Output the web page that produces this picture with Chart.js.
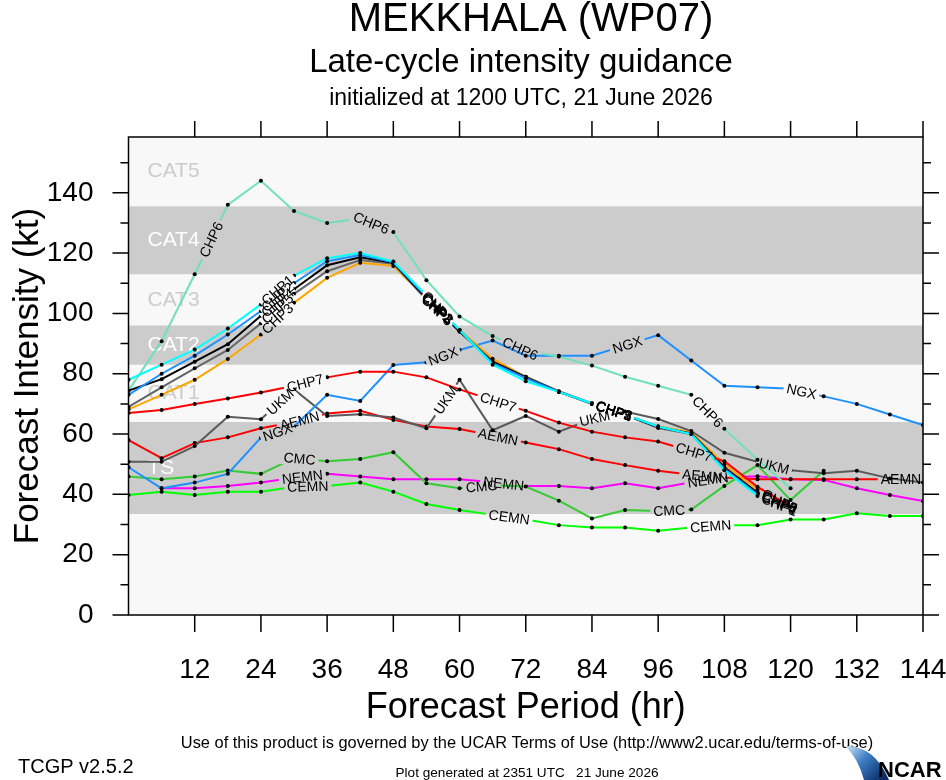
<!DOCTYPE html>
<html>
<head>
<meta charset="utf-8">
<title>MEKKHALA (WP07) late-cycle intensity guidance</title>
<script src="https://cdn.jsdelivr.net/npm/chart.js@4.4.1/dist/chart.umd.min.js"></script>
<style>
  html, body { margin: 0; padding: 0; background: #ffffff; }
  #wrap { width: 946px; height: 780px; }
</style>
</head>
<body>
<div id="wrap"><canvas id="myChart" width="946" height="780"></canvas></div>
<script>
// forecast hours
const hours = [0, 6, 12, 18, 24, 30, 36, 42, 48, 54, 60, 66, 72, 78, 84, 90, 96, 102, 108, 114, 120, 126, 132, 138, 144];

// model intensities (kt)
const chp1 = [78, 83, 88, 95, 103, 112.5, 118.3, 120, 117.2, 106, 94.5, 83, 77.5, 74, 70.2, 66.5, 62.5, 60, 48, 39.5, 35, null, null, null, null];
const chp2 = [73, 80, 86, 93, 100.8, 110, 117.3, 119.4, 117, 105.5, 94.5, 83.5, 78.5, 74, 70, 66.5, 62.5, 60, 48.5, 40, 35.5, null, null, null, null];
const chp4 = [74.4, 78.2, 84, 89.8, 99.2, 108, 116, 118.6, 116.8, 105, 94, 84, 78.8, 74, 70, 66.3, 62.3, 60.2, 49, 40.5, 35.5, null, null, null, null];
const chp5 = [69, 75.5, 81.8, 87.9, 96.7, 106.5, 114, 117.7, 116.5, 104.5, 94, 84, 79, 74.2, 70.2, 66.5, 62, 60, 48.5, 40.5, 36, null, null, null, null];
const chp3 = [68.2, 73, 78, 84.9, 93, 103.5, 111.8, 116.8, 115.7, 105, 94.5, 85, 79, 74, 70, 66.5, 62.5, 60.5, 50, 41.5, 36, null, null, null, null];
const chp6 = [74.4, 90.8, 113, 136, 144, 134, 130, 131.5, 127, 111, 99, 92.5, 87.5, 85.7, 82.7, 79, 76, 73, 61.8, 51.5, 42, null, null, null, null];
const ngx  = [49, 42, 43.9, 46.8, 58.8, 62.5, 73, 71, 82.9, 83.8, 87.9, 91, 86, 86, 86, 89.4, 92.8, 84.4, 76, 75.5, 75, 72.5, 70, 66.5, 63];
const chp7 = [67, 68, 70, 71.8, 73.8, 76, 78.8, 80.7, 80.7, 78.8, 74.8, 71.2, 67.7, 63.8, 60.8, 58.9, 57.5, 54.3, 51, 42.5, 36, null, null, null, null];
const ukm  = [50.8, 50.8, 56, 65.7, 64.9, 74.8, 66, 66.6, 65.5, 61.9, 78, 61.3, 66, 60.8, 65, 67.5, 65, 61, 53.8, 50.8, 48, 47, 47.8, 45.3, 43.9];
const aemn = [58, 52, 57, 58.9, 61.9, 64, 66.8, 67.7, 64.7, 62.5, 61.7, 59.5, 57.2, 55, 51.7, 49.7, 47.8, 46.5, 45.6, 45, 45, 45, 45, 45, 45];
const cmc  = [45.9, 45, 45.9, 47.9, 46.8, 52, 51, 51.7, 54, 43.7, 42, 43, 42.6, 37.9, 32, 34.8, 34.5, 35, 42.8, 49.7, 38.1, 47.8, null, null, null];
const nemn = [null, 42, 42, 42.8, 43.9, 45.5, 46.8, 45.9, 45, 45, 45, 44, 42.8, 42.8, 42, 43.7, 42, 44, 45.6, 46, 45, 44.8, 42, 39.8, 37.8];
const cemn = [39.8, 40.9, 39.8, 40.9, 40.9, 42.5, 42.8, 43.9, 40.9, 36.8, 34.8, 33.2, 31.7, 29.8, 29, 29, 27.9, 29, 29.8, 29.8, 31.7, 31.7, 33.7, 32.8, 32.8];

// hours where the model name is written on its line
const chpTags  = [27, 56, 88, 118];
const chp6Tags = [15, 44, 71, 105];
const ngxTags  = [27, 57, 90.4, 122];
const chp7Tags = [32, 67, 102.5];
const ukmTags  = [27.5, 57.5, 84.5, 117];
const aemnTags = [31, 67, 104, 140];
const cmcTags  = [31, 64, 98];
const nemnTags = [31.5, 68, 105];
const cemnTags = [32.5, 69, 105.5];

// intensity category thresholds (kt)
const catEdges = [33.5, 64, 83, 96, 113, 135.5];
const catNames = ['TS', 'CAT1', 'CAT2', 'CAT3', 'CAT4', 'CAT5'];

const yTicks = [0, 20, 40, 60, 80, 100, 120, 140];
const xTicks = [12, 24, 36, 48, 60, 72, 84, 96, 108, 120, 132, 144];

const FONT = '"Liberation Sans", Arial, Helvetica, sans-serif';

function series(name, vals, color, tags) {
    return {
        label: name,
        data: hours.map((h, i) => ({ x: h, y: vals[i] })),
        borderColor: color,
        backgroundColor: color,
        tags: tags
    };
}

const data = {
    datasets: [
        series('CHP7', chp7, '#ff0000', chp7Tags),
        series('CHP1', chp1, '#00ffff', chpTags),
        series('CHP2', chp2, '#1e90ff', chpTags),
        series('CHP4', chp4, '#000000', chpTags),
        series('CHP5', chp5, '#666666', chpTags),
        series('CHP3', chp3, '#ffa500', chpTags),
        series('CHP6', chp6, '#70e0b8', chp6Tags),
        series('NGX', ngx, '#1e90ff', ngxTags),
        series('UKM', ukm, '#5a5a5a', ukmTags),
        series('AEMN', aemn, '#ff0000', aemnTags),
        series('CMC', cmc, '#33cc33', cmcTags),
        series('NEMN', nemn, '#ff00ff', nemnTags),
        series('CEMN', cemn, '#00ff00', cemnTags)
    ]
};

// where each name sits on its own line (pixel coords from the chart's points)
function tagSpots(chart, i) {
    const ds = chart.data.datasets[i];
    const pts = chart.getDatasetMeta(i).data;
    const ctx = chart.ctx;
    ctx.save();
    ctx.font = '14px ' + FONT;
    const w = ctx.measureText(ds.label).width;
    ctx.restore();
    const out = [];
    (ds.tags || []).forEach(h => {
        let k = 0;
        while (k < hours.length - 2 && hours[k + 1] < h) k++;
        const a = pts[k], b = pts[k + 1];
        if (!a || !b || isNaN(a.y) || isNaN(b.y)) return;
        const t = (h - hours[k]) / (hours[k + 1] - hours[k]);
        out.push({
            x: a.x + t * (b.x - a.x),
            y: a.y + t * (b.y - a.y),
            ang: Math.atan2(b.y - a.y, b.x - a.x),
            w: w
        });
    });
    return out;
}

const guidancePlugin = {
    id: 'guidance',
    beforeDatasetsDraw(chart) {
        const { ctx, chartArea: ca, scales: { y } } = chart;
        ctx.save();
        ctx.fillStyle = '#f8f8f8';
        ctx.fillRect(ca.left, ca.top, ca.right - ca.left, ca.bottom - ca.top);
        ctx.font = '21px ' + FONT;
        ctx.textBaseline = 'middle';
        ctx.textAlign = 'left';
        catEdges.forEach((lo, i) => {
            const hi = i < catEdges.length - 1 ? catEdges[i + 1] : y.max;
            const top = y.getPixelForValue(hi), bot = y.getPixelForValue(lo);
            const gray = i % 2 === 0;
            if (gray) {
                ctx.fillStyle = '#cccccc';
                ctx.fillRect(ca.left, top, ca.right - ca.left, bot - top);
            }
            ctx.fillStyle = gray ? '#ffffff' : '#cccccc';
            ctx.fillText(catNames[i], ca.left + 19, (top + bot) / 2);
        });
        ctx.restore();
    },
    beforeDatasetDraw(chart, args) {
        const ctx = chart.ctx;
        const spots = tagSpots(chart, args.index);
        ctx.save();
        if (!spots.length) return;
        ctx.beginPath();
        ctx.rect(0, 0, chart.width, chart.height);
        spots.forEach(s => {
            const hw = s.w / 2 + 3, hh = 7;
            const c = Math.cos(s.ang), sn = Math.sin(s.ang);
            const corners = [[-hw, -hh], [hw, -hh], [hw, hh], [-hw, hh]];
            corners.forEach((p, j) => {
                const px = s.x + p[0] * c - p[1] * sn;
                const py = s.y + p[0] * sn + p[1] * c;
                if (j === 0) ctx.moveTo(px, py); else ctx.lineTo(px, py);
            });
            ctx.closePath();
        });
        ctx.clip('evenodd');
    },
    afterDatasetDraw(chart) {
        chart.ctx.restore();
    },
    afterDatasetsDraw(chart) {
        const ctx = chart.ctx;
        ctx.save();
        ctx.font = '14px ' + FONT;
        ctx.fillStyle = '#000000';
        ctx.textAlign = 'center';
        ctx.textBaseline = 'middle';
        for (let i = chart.data.datasets.length - 1; i >= 0; i--) {
            const name = chart.data.datasets[i].label;
            tagSpots(chart, i).forEach(s => {
                ctx.save();
                ctx.translate(s.x, s.y);
                ctx.rotate(s.ang);
                ctx.fillText(name, 0, 1);
                ctx.restore();
            });
        }
        ctx.restore();
    },
    afterDraw(chart) {
        const { ctx, chartArea: ca, scales: { x, y } } = chart;
        ctx.save();
        // frame and tick marks
        ctx.strokeStyle = '#000000';
        ctx.lineWidth = 1.5;
        ctx.strokeRect(ca.left, ca.top, ca.right - ca.left, ca.bottom - ca.top);
        ctx.beginPath();
        for (let v = 0; v <= 150; v += 10) {
            const py = y.getPixelForValue(v);
            const len = v % 20 === 0 ? 16 : 8;
            ctx.moveTo(ca.left - len, py); ctx.lineTo(ca.left, py);
            ctx.moveTo(ca.right, py); ctx.lineTo(ca.right + len, py);
        }
        xTicks.forEach(h => {
            const px = x.getPixelForValue(h);
            ctx.moveTo(px, ca.bottom); ctx.lineTo(px, ca.bottom + 17);
            ctx.moveTo(px, ca.top); ctx.lineTo(px, ca.top - 16);
        });
        ctx.stroke();

        // titles
        ctx.fillStyle = '#000000';
        ctx.textAlign = 'center';
        ctx.textBaseline = 'alphabetic';
        ctx.font = '40px ' + FONT;
        ctx.fillText('MEKKHALA (WP07)', 531, 31);
        ctx.font = '33px ' + FONT;
        ctx.fillText('Late-cycle intensity guidance', 521, 72);
        ctx.font = '23px ' + FONT;
        ctx.fillText('initialized at 1200 UTC, 21 June 2026', 521, 105);

        // footer
        ctx.font = '16.4px ' + FONT;
        ctx.fillText('Use of this product is governed by the UCAR Terms of Use (http://www2.ucar.edu/terms-of-use)', 527, 748);
        ctx.font = '13.6px ' + FONT;
        ctx.fillText('Plot generated at 2351 UTC   21 June 2026', 527, 777);
        ctx.textAlign = 'left';
        ctx.font = '20px ' + FONT;
        ctx.fillText('TCGP v2.5.2', 18, 773);

        // NCAR mark
        const g = ctx.createLinearGradient(846, 745, 882, 780);
        g.addColorStop(0, '#d5e9f8');
        g.addColorStop(0.45, '#3d7fc4');
        g.addColorStop(1, '#0b2a66');
        ctx.fillStyle = g;
        ctx.beginPath();
        ctx.moveTo(845, 746);
        ctx.quadraticCurveTo(874, 745, 889, 780);
        ctx.lineTo(864, 780);
        ctx.quadraticCurveTo(858, 758, 845, 746);
        ctx.fill();
        ctx.fillStyle = '#000000';
        ctx.font = 'bold 22px ' + FONT;
        ctx.fillText('NCAR', 878, 777);
        ctx.restore();
    }
};

const config = {
    type: 'line',
    data: data,
    options: {
        responsive: false,
        animation: false,
        layout: { padding: { top: 137, right: 23, left: 0, bottom: 0 } },
        elements: {
            line: { borderWidth: 2, tension: 0 },
            point: { radius: 2, backgroundColor: '#000000', borderWidth: 0, hoverRadius: 2 }
        },
        datasets: {
            line: { pointBackgroundColor: '#000000', pointBorderWidth: 0 }
        },
        plugins: {
            legend: { display: false },
            tooltip: { enabled: false },
            title: { display: false }
        },
        scales: {
            x: {
                type: 'linear',
                min: 0,
                max: 144,
                afterFit(scale) {
                    scale.height = 165;
                    scale.paddingLeft = 0;
                    scale.paddingRight = 0;
                },
                afterBuildTicks(scale) { scale.ticks = xTicks.map(v => ({ value: v })); },
                grid: { display: false, drawTicks: false },
                border: { display: false },
                ticks: {
                    padding: 38,
                    color: '#000000',
                    font: { family: FONT, size: 28 },
                    maxRotation: 0,
                    autoSkip: false
                },
                title: {
                    display: true,
                    text: 'Forecast Period (hr)',
                    color: '#000000',
                    font: { family: FONT, size: 36 },
                    padding: { top: 0, bottom: 50 }
                }
            },
            y: {
                min: 0,
                max: 158.5,
                afterFit(scale) {
                    scale.width = 128.5;
                    scale.paddingTop = 0;
                    scale.paddingBottom = 0;
                },
                afterBuildTicks(scale) { scale.ticks = yTicks.map(v => ({ value: v })); },
                grid: { display: false, drawTicks: false },
                border: { display: false },
                ticks: {
                    padding: 35,
                    color: '#000000',
                    font: { family: FONT, size: 28 }
                },
                title: {
                    display: true,
                    text: 'Forecast Intensity (kt)',
                    color: '#000000',
                    font: { family: FONT, size: 35 },
                    padding: { top: 7, bottom: 0 }
                }
            }
        }
    },
    plugins: [guidancePlugin]
};

var myChart = new Chart(
    document.getElementById('myChart'),
    config
);
</script>
</body>
</html>
